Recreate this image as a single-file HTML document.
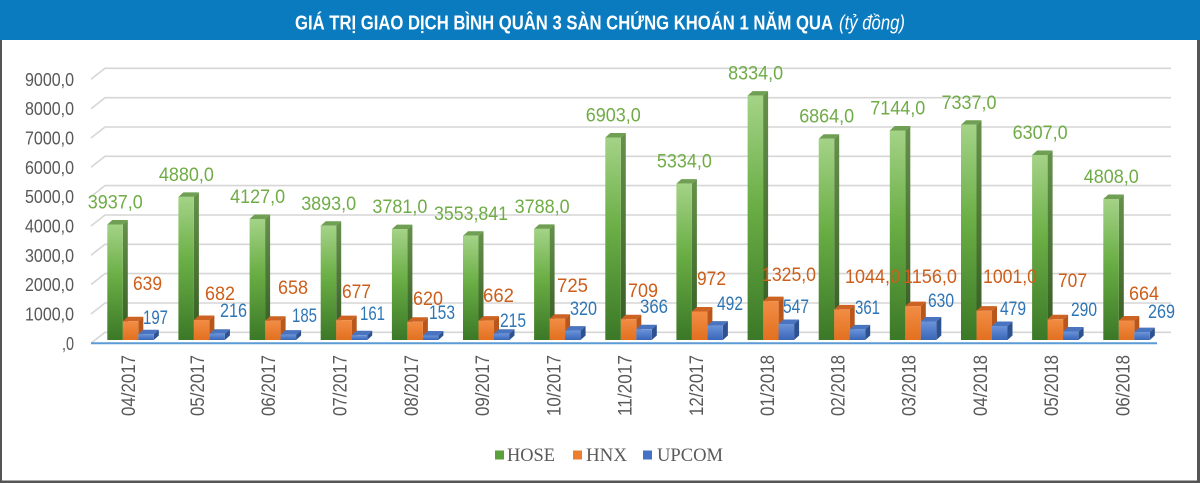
<!DOCTYPE html>
<html>
<head>
<meta charset="utf-8">
<style>
html,body{margin:0;padding:0;background:#fff;}
svg{display:block;}
.lbl{font-family:"Liberation Sans Narrow","Liberation Sans",sans-serif;font-size:19px;}
.ax{font-family:"Liberation Sans Narrow","Liberation Sans",sans-serif;font-size:18px;fill:#595959;}
.xl{font-family:"Liberation Sans Narrow","Liberation Sans",sans-serif;font-size:19px;fill:#595959;}
.lg{font-family:"Liberation Serif",serif;font-size:19px;fill:#595959;}
.gf{fill:url(#gF);} .gs{fill:url(#gS);} .gt{fill:#6f9f52;}
.of{fill:url(#oF);} .os{fill:#b9561b;} .ot{fill:#cc6322;}
.bf{fill:url(#bF);} .bs{fill:#2d528f;} .bt{fill:#4a74c0;}
.hose{fill:#6fac46;} .hnx{fill:#cc5e1a;} .up{fill:#2e75b6;}
</style>
</head>
<body>
<svg width="1200" height="483" viewBox="0 0 1200 483" xmlns="http://www.w3.org/2000/svg">
<defs>
<linearGradient id="gF" x1="0" y1="0" x2="0" y2="1">
<stop offset="0" stop-color="#a4d387"/><stop offset="0.45" stop-color="#6aae45"/><stop offset="1" stop-color="#3b7827"/>
</linearGradient>
<linearGradient id="gS" x1="0" y1="0" x2="0" y2="1">
<stop offset="0" stop-color="#66914b"/><stop offset="1" stop-color="#345b22"/>
</linearGradient>
<linearGradient id="oF" x1="0" y1="0" x2="0" y2="1">
<stop offset="0" stop-color="#f28d45"/><stop offset="1" stop-color="#e2701f"/>
</linearGradient>
<linearGradient id="bF" x1="0" y1="0" x2="0" y2="1">
<stop offset="0" stop-color="#6a93d9"/><stop offset="1" stop-color="#3a66b8"/>
</linearGradient>
</defs>

<rect x="0" y="0" width="1200" height="483" fill="#fff"/>
<!-- header -->
<rect x="0" y="0" width="1200" height="40" fill="#0b7bc0"/>
<text x="295" y="29.5" font-family="'Liberation Sans Narrow','Liberation Sans',sans-serif" font-size="20" font-weight="bold" fill="#fff" textLength="538" lengthAdjust="spacingAndGlyphs">GIÁ TRỊ GIAO DỊCH BÌNH QUÂN 3 SÀN CHỨNG KHOÁN 1 NĂM QUA</text>
<text x="839" y="29.5" font-family="'Liberation Sans Narrow','Liberation Sans',sans-serif" font-size="20" font-style="italic" fill="#fff" textLength="66" lengthAdjust="spacingAndGlyphs">(tỷ đồng)</text>

<!-- borders -->
<rect x="0" y="40" width="2" height="443" fill="#555"/>
<rect x="1197" y="40" width="3" height="443" fill="#555"/>
<rect x="0" y="480.5" width="1200" height="2.5" fill="#555"/>

<!-- gridlines -->
<g stroke="#d6d6d6" stroke-width="1.6" fill="none">
<polyline points="91,343.3 105,332.3 1171,332.3"/>
<polyline points="91,314 105,303 1171,303"/>
<polyline points="91,284.6 105,273.6 1171,273.6"/>
<polyline points="91,255.3 105,244.3 1171,244.3"/>
<polyline points="91,226 105,215 1171,215"/>
<polyline points="91,196.6 105,185.6 1171,185.6"/>
<polyline points="91,167.3 105,156.3 1171,156.3"/>
<polyline points="91,138 105,127 1171,127"/>
<polyline points="91,108.7 105,97.7 1171,97.7"/>
<polyline points="91,79.3 105,68.3 1171,68.3"/>
</g>

<!-- y axis labels -->
<g class="ax" text-anchor="end">
<text x="74" y="349.8" textLength="12" lengthAdjust="spacingAndGlyphs">,0</text>
<text x="74" y="320.5" textLength="49" lengthAdjust="spacingAndGlyphs">1000,0</text>
<text x="74" y="291.1" textLength="49" lengthAdjust="spacingAndGlyphs">2000,0</text>
<text x="74" y="261.8" textLength="49" lengthAdjust="spacingAndGlyphs">3000,0</text>
<text x="74" y="232.5" textLength="49" lengthAdjust="spacingAndGlyphs">4000,0</text>
<text x="74" y="203.1" textLength="49" lengthAdjust="spacingAndGlyphs">5000,0</text>
<text x="74" y="173.8" textLength="49" lengthAdjust="spacingAndGlyphs">6000,0</text>
<text x="74" y="144.5" textLength="49" lengthAdjust="spacingAndGlyphs">7000,0</text>
<text x="74" y="115.2" textLength="49" lengthAdjust="spacingAndGlyphs">8000,0</text>
<text x="74" y="85.8" textLength="49" lengthAdjust="spacingAndGlyphs">9000,0</text>
</g>

<!-- HOSE bars -->
<g>
<g transform="translate(107.3,224.5)"><polygon class="gs" points="15.5,0 20.5,-4.5 20.5,111 15.5,115.5"/><polygon class="gt" points="0,0 5,-4.5 20.5,-4.5 15.5,0"/><rect class="gf" width="15.5" height="115.5"/></g>
<g transform="translate(178.4,196.9)"><polygon class="gs" points="15.5,0 20.5,-4.5 20.5,138.6 15.5,143.1"/><polygon class="gt" points="0,0 5,-4.5 20.5,-4.5 15.5,0"/><rect class="gf" width="15.5" height="143.1"/></g>
<g transform="translate(249.6,219)"><polygon class="gs" points="15.5,0 20.5,-4.5 20.5,116.5 15.5,121"/><polygon class="gt" points="0,0 5,-4.5 20.5,-4.5 15.5,0"/><rect class="gf" width="15.5" height="121"/></g>
<g transform="translate(320.7,225.8)"><polygon class="gs" points="15.5,0 20.5,-4.5 20.5,109.7 15.5,114.2"/><polygon class="gt" points="0,0 5,-4.5 20.5,-4.5 15.5,0"/><rect class="gf" width="15.5" height="114.2"/></g>
<g transform="translate(391.9,229.1)"><polygon class="gs" points="15.5,0 20.5,-4.5 20.5,106.4 15.5,110.9"/><polygon class="gt" points="0,0 5,-4.5 20.5,-4.5 15.5,0"/><rect class="gf" width="15.5" height="110.9"/></g>
<g transform="translate(463,235.8)"><polygon class="gs" points="15.5,0 20.5,-4.5 20.5,99.7 15.5,104.2"/><polygon class="gt" points="0,0 5,-4.5 20.5,-4.5 15.5,0"/><rect class="gf" width="15.5" height="104.2"/></g>
<g transform="translate(534.1,228.9)"><polygon class="gs" points="15.5,0 20.5,-4.5 20.5,106.6 15.5,111.1"/><polygon class="gt" points="0,0 5,-4.5 20.5,-4.5 15.5,0"/><rect class="gf" width="15.5" height="111.1"/></g>
<g transform="translate(605.3,137.5)"><polygon class="gs" points="15.5,0 20.5,-4.5 20.5,198 15.5,202.5"/><polygon class="gt" points="0,0 5,-4.5 20.5,-4.5 15.5,0"/><rect class="gf" width="15.5" height="202.5"/></g>
<g transform="translate(676.4,183.6)"><polygon class="gs" points="15.5,0 20.5,-4.5 20.5,151.9 15.5,156.4"/><polygon class="gt" points="0,0 5,-4.5 20.5,-4.5 15.5,0"/><rect class="gf" width="15.5" height="156.4"/></g>
<g transform="translate(747.6,95.6)"><polygon class="gs" points="15.5,0 20.5,-4.5 20.5,239.9 15.5,244.4"/><polygon class="gt" points="0,0 5,-4.5 20.5,-4.5 15.5,0"/><rect class="gf" width="15.5" height="244.4"/></g>
<g transform="translate(818.7,138.7)"><polygon class="gs" points="15.5,0 20.5,-4.5 20.5,196.8 15.5,201.3"/><polygon class="gt" points="0,0 5,-4.5 20.5,-4.5 15.5,0"/><rect class="gf" width="15.5" height="201.3"/></g>
<g transform="translate(889.8,130.5)"><polygon class="gs" points="15.5,0 20.5,-4.5 20.5,205 15.5,209.5"/><polygon class="gt" points="0,0 5,-4.5 20.5,-4.5 15.5,0"/><rect class="gf" width="15.5" height="209.5"/></g>
<g transform="translate(961,124.8)"><polygon class="gs" points="15.5,0 20.5,-4.5 20.5,210.7 15.5,215.2"/><polygon class="gt" points="0,0 5,-4.5 20.5,-4.5 15.5,0"/><rect class="gf" width="15.5" height="215.2"/></g>
<g transform="translate(1032.1,155)"><polygon class="gs" points="15.5,0 20.5,-4.5 20.5,180.5 15.5,185"/><polygon class="gt" points="0,0 5,-4.5 20.5,-4.5 15.5,0"/><rect class="gf" width="15.5" height="185"/></g>
<g transform="translate(1103.3,199)"><polygon class="gs" points="15.5,0 20.5,-4.5 20.5,136.5 15.5,141"/><polygon class="gt" points="0,0 5,-4.5 20.5,-4.5 15.5,0"/><rect class="gf" width="15.5" height="141"/></g>
</g>

<!-- HNX bars -->
<g>
<g transform="translate(122.8,321.3)"><polygon class="os" points="15.5,0 20.5,-4.5 20.5,14.2 15.5,18.7"/><polygon class="ot" points="0,0 5,-4.5 20.5,-4.5 15.5,0"/><rect class="of" width="15.5" height="18.7"/></g>
<g transform="translate(193.9,320)"><polygon class="os" points="15.5,0 20.5,-4.5 20.5,15.5 15.5,20"/><polygon class="ot" points="0,0 5,-4.5 20.5,-4.5 15.5,0"/><rect class="of" width="15.5" height="20"/></g>
<g transform="translate(265.1,320.7)"><polygon class="os" points="15.5,0 20.5,-4.5 20.5,14.8 15.5,19.3"/><polygon class="ot" points="0,0 5,-4.5 20.5,-4.5 15.5,0"/><rect class="of" width="15.5" height="19.3"/></g>
<g transform="translate(336.2,320.1)"><polygon class="os" points="15.5,0 20.5,-4.5 20.5,15.4 15.5,19.9"/><polygon class="ot" points="0,0 5,-4.5 20.5,-4.5 15.5,0"/><rect class="of" width="15.5" height="19.9"/></g>
<g transform="translate(407.4,321.8)"><polygon class="os" points="15.5,0 20.5,-4.5 20.5,13.7 15.5,18.2"/><polygon class="ot" points="0,0 5,-4.5 20.5,-4.5 15.5,0"/><rect class="of" width="15.5" height="18.2"/></g>
<g transform="translate(478.5,320.6)"><polygon class="os" points="15.5,0 20.5,-4.5 20.5,14.9 15.5,19.4"/><polygon class="ot" points="0,0 5,-4.5 20.5,-4.5 15.5,0"/><rect class="of" width="15.5" height="19.4"/></g>
<g transform="translate(549.6,318.7)"><polygon class="os" points="15.5,0 20.5,-4.5 20.5,16.8 15.5,21.3"/><polygon class="ot" points="0,0 5,-4.5 20.5,-4.5 15.5,0"/><rect class="of" width="15.5" height="21.3"/></g>
<g transform="translate(620.8,319.2)"><polygon class="os" points="15.5,0 20.5,-4.5 20.5,16.3 15.5,20.8"/><polygon class="ot" points="0,0 5,-4.5 20.5,-4.5 15.5,0"/><rect class="of" width="15.5" height="20.8"/></g>
<g transform="translate(691.9,311.5)"><polygon class="os" points="15.5,0 20.5,-4.5 20.5,24 15.5,28.5"/><polygon class="ot" points="0,0 5,-4.5 20.5,-4.5 15.5,0"/><rect class="of" width="15.5" height="28.5"/></g>
<g transform="translate(763.1,301.1)"><polygon class="os" points="15.5,0 20.5,-4.5 20.5,34.4 15.5,38.9"/><polygon class="ot" points="0,0 5,-4.5 20.5,-4.5 15.5,0"/><rect class="of" width="15.5" height="38.9"/></g>
<g transform="translate(834.2,309.4)"><polygon class="os" points="15.5,0 20.5,-4.5 20.5,26.1 15.5,30.6"/><polygon class="ot" points="0,0 5,-4.5 20.5,-4.5 15.5,0"/><rect class="of" width="15.5" height="30.6"/></g>
<g transform="translate(905.3,306.1)"><polygon class="os" points="15.5,0 20.5,-4.5 20.5,29.4 15.5,33.9"/><polygon class="ot" points="0,0 5,-4.5 20.5,-4.5 15.5,0"/><rect class="of" width="15.5" height="33.9"/></g>
<g transform="translate(976.5,310.6)"><polygon class="os" points="15.5,0 20.5,-4.5 20.5,24.9 15.5,29.4"/><polygon class="ot" points="0,0 5,-4.5 20.5,-4.5 15.5,0"/><rect class="of" width="15.5" height="29.4"/></g>
<g transform="translate(1047.6,319.3)"><polygon class="os" points="15.5,0 20.5,-4.5 20.5,16.2 15.5,20.7"/><polygon class="ot" points="0,0 5,-4.5 20.5,-4.5 15.5,0"/><rect class="of" width="15.5" height="20.7"/></g>
<g transform="translate(1118.8,320.5)"><polygon class="os" points="15.5,0 20.5,-4.5 20.5,15 15.5,19.5"/><polygon class="ot" points="0,0 5,-4.5 20.5,-4.5 15.5,0"/><rect class="of" width="15.5" height="19.5"/></g>
</g>

<!-- UPCOM bars -->
<g>
<g transform="translate(138.3,334.2)"><polygon class="bs" points="15.5,0 20.5,-4.5 20.5,1.3 15.5,5.8"/><polygon class="bt" points="0,0 5,-4.5 20.5,-4.5 15.5,0"/><rect class="bf" width="15.5" height="5.8"/></g>
<g transform="translate(209.4,333.7)"><polygon class="bs" points="15.5,0 20.5,-4.5 20.5,1.8 15.5,6.3"/><polygon class="bt" points="0,0 5,-4.5 20.5,-4.5 15.5,0"/><rect class="bf" width="15.5" height="6.3"/></g>
<g transform="translate(280.6,334.6)"><polygon class="bs" points="15.5,0 20.5,-4.5 20.5,0.9 15.5,5.4"/><polygon class="bt" points="0,0 5,-4.5 20.5,-4.5 15.5,0"/><rect class="bf" width="15.5" height="5.4"/></g>
<g transform="translate(351.7,335.3)"><polygon class="bs" points="15.5,0 20.5,-4.5 20.5,0.2 15.5,4.7"/><polygon class="bt" points="0,0 5,-4.5 20.5,-4.5 15.5,0"/><rect class="bf" width="15.5" height="4.7"/></g>
<g transform="translate(422.9,335.5)"><polygon class="bs" points="15.5,0 20.5,-4.5 20.5,0 15.5,4.5"/><polygon class="bt" points="0,0 5,-4.5 20.5,-4.5 15.5,0"/><rect class="bf" width="15.5" height="4.5"/></g>
<g transform="translate(494,333.7)"><polygon class="bs" points="15.5,0 20.5,-4.5 20.5,1.8 15.5,6.3"/><polygon class="bt" points="0,0 5,-4.5 20.5,-4.5 15.5,0"/><rect class="bf" width="15.5" height="6.3"/></g>
<g transform="translate(565.1,330.6)"><polygon class="bs" points="15.5,0 20.5,-4.5 20.5,4.9 15.5,9.4"/><polygon class="bt" points="0,0 5,-4.5 20.5,-4.5 15.5,0"/><rect class="bf" width="15.5" height="9.4"/></g>
<g transform="translate(636.3,329.3)"><polygon class="bs" points="15.5,0 20.5,-4.5 20.5,6.2 15.5,10.7"/><polygon class="bt" points="0,0 5,-4.5 20.5,-4.5 15.5,0"/><rect class="bf" width="15.5" height="10.7"/></g>
<g transform="translate(707.4,325.6)"><polygon class="bs" points="15.5,0 20.5,-4.5 20.5,9.9 15.5,14.4"/><polygon class="bt" points="0,0 5,-4.5 20.5,-4.5 15.5,0"/><rect class="bf" width="15.5" height="14.4"/></g>
<g transform="translate(778.6,324)"><polygon class="bs" points="15.5,0 20.5,-4.5 20.5,11.5 15.5,16"/><polygon class="bt" points="0,0 5,-4.5 20.5,-4.5 15.5,0"/><rect class="bf" width="15.5" height="16"/></g>
<g transform="translate(849.7,329.4)"><polygon class="bs" points="15.5,0 20.5,-4.5 20.5,6.1 15.5,10.6"/><polygon class="bt" points="0,0 5,-4.5 20.5,-4.5 15.5,0"/><rect class="bf" width="15.5" height="10.6"/></g>
<g transform="translate(920.8,321.5)"><polygon class="bs" points="15.5,0 20.5,-4.5 20.5,14 15.5,18.5"/><polygon class="bt" points="0,0 5,-4.5 20.5,-4.5 15.5,0"/><rect class="bf" width="15.5" height="18.5"/></g>
<g transform="translate(992,326)"><polygon class="bs" points="15.5,0 20.5,-4.5 20.5,9.5 15.5,14"/><polygon class="bt" points="0,0 5,-4.5 20.5,-4.5 15.5,0"/><rect class="bf" width="15.5" height="14"/></g>
<g transform="translate(1063.1,331.5)"><polygon class="bs" points="15.5,0 20.5,-4.5 20.5,4 15.5,8.5"/><polygon class="bt" points="0,0 5,-4.5 20.5,-4.5 15.5,0"/><rect class="bf" width="15.5" height="8.5"/></g>
<g transform="translate(1134.3,332.1)"><polygon class="bs" points="15.5,0 20.5,-4.5 20.5,3.4 15.5,7.9"/><polygon class="bt" points="0,0 5,-4.5 20.5,-4.5 15.5,0"/><rect class="bf" width="15.5" height="7.9"/></g>
</g>

<!-- front base line -->
<line x1="91" y1="343.3" x2="1157" y2="343.3" stroke="#5b9bd5" stroke-width="2"/>

<!-- HOSE labels -->
<g class="lbl hose" text-anchor="middle">
<text x="115.3" y="208.5" textLength="55" lengthAdjust="spacingAndGlyphs">3937,0</text>
<text x="186.4" y="180.9" textLength="55" lengthAdjust="spacingAndGlyphs">4880,0</text>
<text x="257.6" y="203" textLength="55" lengthAdjust="spacingAndGlyphs">4127,0</text>
<text x="328.7" y="209.8" textLength="55" lengthAdjust="spacingAndGlyphs">3893,0</text>
<text x="399.9" y="213.1" textLength="55" lengthAdjust="spacingAndGlyphs">3781,0</text>
<text x="471" y="219.8" textLength="74" lengthAdjust="spacingAndGlyphs">3553,841</text>
<text x="542.1" y="212.9" textLength="55" lengthAdjust="spacingAndGlyphs">3788,0</text>
<text x="613.3" y="121.5" textLength="55" lengthAdjust="spacingAndGlyphs">6903,0</text>
<text x="684.4" y="167.6" textLength="55" lengthAdjust="spacingAndGlyphs">5334,0</text>
<text x="755.6" y="79.6" textLength="55" lengthAdjust="spacingAndGlyphs">8334,0</text>
<text x="826.7" y="122.7" textLength="55" lengthAdjust="spacingAndGlyphs">6864,0</text>
<text x="897.8" y="114.5" textLength="55" lengthAdjust="spacingAndGlyphs">7144,0</text>
<text x="969" y="108.8" textLength="55" lengthAdjust="spacingAndGlyphs">7337,0</text>
<text x="1040.1" y="139" textLength="55" lengthAdjust="spacingAndGlyphs">6307,0</text>
<text x="1111.3" y="183" textLength="55" lengthAdjust="spacingAndGlyphs">4808,0</text>
</g>

<!-- HNX labels -->
<g class="lbl hnx">
<text x="133" y="290" textLength="29" lengthAdjust="spacingAndGlyphs">639</text>
<text x="205" y="300" textLength="30" lengthAdjust="spacingAndGlyphs">682</text>
<text x="278" y="294" textLength="30" lengthAdjust="spacingAndGlyphs">658</text>
<text x="342" y="298" textLength="29" lengthAdjust="spacingAndGlyphs">677</text>
<text x="413" y="305" textLength="30" lengthAdjust="spacingAndGlyphs">620</text>
<text x="483" y="302" textLength="31" lengthAdjust="spacingAndGlyphs">662</text>
<text x="557" y="292" textLength="31" lengthAdjust="spacingAndGlyphs">725</text>
<text x="628" y="297" textLength="30" lengthAdjust="spacingAndGlyphs">709</text>
<text x="697" y="285" textLength="29" lengthAdjust="spacingAndGlyphs">972</text>
<text x="762" y="281" textLength="54" lengthAdjust="spacingAndGlyphs">1325,0</text>
<text x="845" y="283" textLength="55" lengthAdjust="spacingAndGlyphs">1044,0</text>
<text x="903" y="283" textLength="54" lengthAdjust="spacingAndGlyphs">1156,0</text>
<text x="983" y="283" textLength="54" lengthAdjust="spacingAndGlyphs">1001,0</text>
<text x="1058" y="287" textLength="29" lengthAdjust="spacingAndGlyphs">707</text>
<text x="1129" y="300" textLength="30" lengthAdjust="spacingAndGlyphs">664</text>
</g>

<!-- UPCOM labels -->
<g class="lbl up">
<text x="143" y="324" textLength="25" lengthAdjust="spacingAndGlyphs">197</text>
<text x="220" y="317" textLength="27" lengthAdjust="spacingAndGlyphs">216</text>
<text x="292" y="322" textLength="25" lengthAdjust="spacingAndGlyphs">185</text>
<text x="360" y="320" textLength="25" lengthAdjust="spacingAndGlyphs">161</text>
<text x="429" y="319" textLength="26" lengthAdjust="spacingAndGlyphs">153</text>
<text x="500" y="327" textLength="26" lengthAdjust="spacingAndGlyphs">215</text>
<text x="570" y="315" textLength="27" lengthAdjust="spacingAndGlyphs">320</text>
<text x="640" y="313" textLength="28" lengthAdjust="spacingAndGlyphs">366</text>
<text x="717" y="310" textLength="26" lengthAdjust="spacingAndGlyphs">492</text>
<text x="783" y="313" textLength="26" lengthAdjust="spacingAndGlyphs">547</text>
<text x="855" y="314" textLength="25" lengthAdjust="spacingAndGlyphs">361</text>
<text x="928" y="307" textLength="26" lengthAdjust="spacingAndGlyphs">630</text>
<text x="1000" y="315" textLength="26" lengthAdjust="spacingAndGlyphs">479</text>
<text x="1071" y="316" textLength="26" lengthAdjust="spacingAndGlyphs">290</text>
<text x="1148" y="318" textLength="27" lengthAdjust="spacingAndGlyphs">269</text>
</g>

<!-- X axis labels -->
<g class="xl" text-anchor="end">
<text transform="translate(135,355) rotate(-90)" textLength="61" lengthAdjust="spacingAndGlyphs">04/2017</text>
<text transform="translate(204,355) rotate(-90)" textLength="61" lengthAdjust="spacingAndGlyphs">05/2017</text>
<text transform="translate(275,355) rotate(-90)" textLength="61" lengthAdjust="spacingAndGlyphs">06/2017</text>
<text transform="translate(346.5,355) rotate(-90)" textLength="61" lengthAdjust="spacingAndGlyphs">07/2017</text>
<text transform="translate(418,355) rotate(-90)" textLength="61" lengthAdjust="spacingAndGlyphs">08/2017</text>
<text transform="translate(489,355) rotate(-90)" textLength="61" lengthAdjust="spacingAndGlyphs">09/2017</text>
<text transform="translate(560.5,355) rotate(-90)" textLength="61" lengthAdjust="spacingAndGlyphs">10/2017</text>
<text transform="translate(631.5,355) rotate(-90)" textLength="61" lengthAdjust="spacingAndGlyphs">11/2017</text>
<text transform="translate(703,355) rotate(-90)" textLength="61" lengthAdjust="spacingAndGlyphs">12/2017</text>
<text transform="translate(774,355) rotate(-90)" textLength="61" lengthAdjust="spacingAndGlyphs">01/2018</text>
<text transform="translate(844.5,355) rotate(-90)" textLength="61" lengthAdjust="spacingAndGlyphs">02/2018</text>
<text transform="translate(915.5,355) rotate(-90)" textLength="61" lengthAdjust="spacingAndGlyphs">03/2018</text>
<text transform="translate(987,355) rotate(-90)" textLength="61" lengthAdjust="spacingAndGlyphs">04/2018</text>
<text transform="translate(1058,355) rotate(-90)" textLength="61" lengthAdjust="spacingAndGlyphs">05/2018</text>
<text transform="translate(1129.5,355) rotate(-90)" textLength="61" lengthAdjust="spacingAndGlyphs">06/2018</text>
</g>

<!-- Legend -->
<rect x="495" y="450.5" width="9" height="9" fill="#5aa03c"/>
<text class="lg" x="507" y="461" textLength="48" lengthAdjust="spacingAndGlyphs">HOSE</text>
<rect x="573" y="450.5" width="9" height="9" fill="#ed7d31"/>
<text class="lg" x="586" y="461" textLength="41" lengthAdjust="spacingAndGlyphs">HNX</text>
<rect x="643" y="450.5" width="9" height="9" fill="#4472c4"/>
<text class="lg" x="657" y="461" textLength="66" lengthAdjust="spacingAndGlyphs">UPCOM</text>
</svg>
</body>
</html>
